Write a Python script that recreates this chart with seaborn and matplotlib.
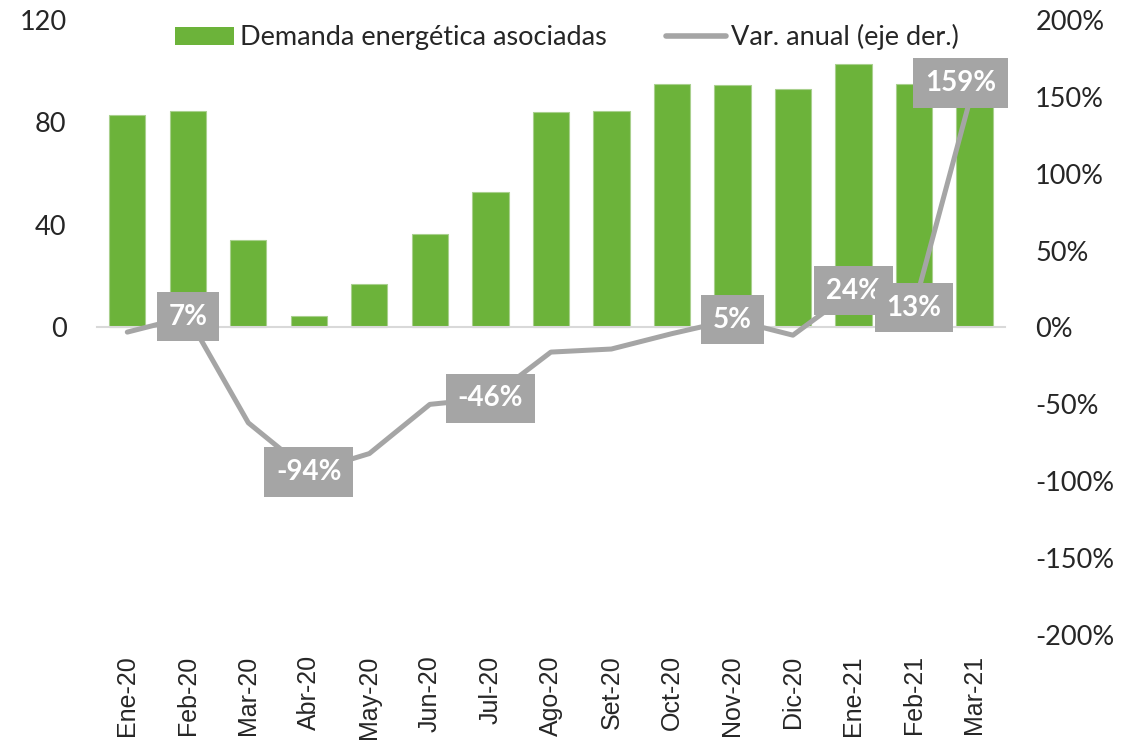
import numpy as np
import pandas as pd
import matplotlib
matplotlib.use("Agg")
import matplotlib.pyplot as plt
import seaborn as sns
from matplotlib.ticker import FuncFormatter, FixedLocator
from matplotlib.lines import Line2D
from matplotlib.patches import Patch

# --- datos ---
meses = ["Ene-20", "Feb-20", "Mar-20", "Abr-20", "May-20", "Jun-20", "Jul-20", "Ago-20",
         "Set-20", "Oct-20", "Nov-20", "Dic-20", "Ene-21", "Feb-21", "Mar-21"]
demanda = [83, 84.5, 34, 4.5, 17, 36.5, 53, 84, 84.5, 95, 94.5, 93, 103, 95, 95]
var_anual = [-3, 7, -62, -94, -82, -50, -46, -16, -14, -4, 5, -5, 24, 13, 159]
etiquetas_idx = [1, 3, 6, 10, 12, 13, 14]

verde = "#6CB33A"
gris = "#A5A5A5"
eje = "#D9D9D9"

sns.set_style("white")
plt.rcParams["font.family"] = ["Lato", "DejaVu Sans"]

df = pd.DataFrame({"mes": meses, "demanda": demanda, "var": var_anual})
df["pos"] = np.arange(len(df))

fig, ax = plt.subplots(figsize=(11.43, 7.46), dpi=100)
fig.subplots_adjust(left=0.0849, right=0.879, top=0.9732, bottom=0.1488)

sns.barplot(data=df, x="mes", y="demanda", color=verde, width=0.6, ax=ax,
            edgecolor="#A9D08E", linewidth=0.8, saturation=1)
ax.set_xlim(-0.5, len(meses) - 0.5)
ax.set_ylim(-120, 120)
ax.set_yticks([0, 40, 80, 120])
ax.tick_params(axis="y", length=0, labelsize=19.5, pad=22)
for s in ["left", "right", "top"]:
    ax.spines[s].set_visible(False)
ax.spines["bottom"].set_position(("data", 0))
ax.spines["bottom"].set_color(eje)
ax.spines["bottom"].set_linewidth(1.5)
ax.xaxis.set_minor_locator(FixedLocator(np.arange(-0.5, len(meses), 1)))
ax.tick_params(axis="x", which="minor", length=6, width=1.5, color=eje, direction="out")
ax.tick_params(axis="x", which="major", length=0, pad=236, labelsize=18, rotation=90)
for lab in ax.get_xticklabels():
    lab.set_fontfamily(["Liberation Sans", "DejaVu Sans"])
    lab.set_va("top")
ax.set_xlabel("")
ax.set_ylabel("")

ax2 = ax.twinx()
sns.lineplot(data=df, x="pos", y="var", color=gris, linewidth=3.6, ax=ax2)
ax2.set_ylim(-200, 200)
ax2.set_yticks(np.arange(-200, 201, 50))
ax2.yaxis.set_major_formatter(FuncFormatter(lambda v, p: f"{v:.0f}%"))
ax2.tick_params(axis="y", length=0, labelsize=19.5, pad=22)
for s in ax2.spines.values():
    s.set_visible(False)
ax2.set_xlabel("")
ax2.set_ylabel("")

for i in etiquetas_idx:
    dx = -14 if i == len(meses) - 1 else 0
    ax2.annotate(f"{var_anual[i]:.0f}%", (i, var_anual[i]), xytext=(dx * 0.72, 0),
                 textcoords="offset points", ha="center", va="center",
                 fontsize=20, fontweight="bold", color="white",
                 bbox=dict(boxstyle="square,pad=0.42", fc=gris, ec="none"))

handles = [Patch(facecolor=verde, edgecolor="none"),
           Line2D([0], [0], color=gris, linewidth=4, solid_capstyle="round")]
fig.legend(handles, ["Demanda energética asociadas", "Var. anual (eje der.)"],
           loc="upper center", bbox_to_anchor=(0.496, 1.0), ncol=2, frameon=False,
           fontsize=19.5, handlelength=2.2, handletextpad=0.2, columnspacing=2.2)

fig.savefig("out.png", dpi=100)
